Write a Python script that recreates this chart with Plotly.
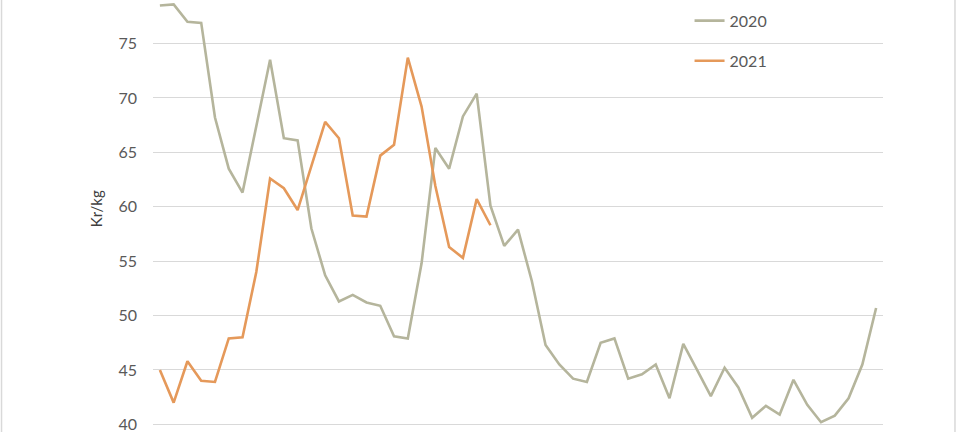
import plotly.graph_objects as go

weeks = list(range(1, 54))
price_2020 = [78.5, 78.6, 77.0, 76.9, 68.2, 63.5, 61.3, 67.3, 73.5, 66.3,
              66.1, 58.0, 53.7, 51.3, 51.9, 51.2, 50.9, 48.1, 47.9, 54.8,
              65.4, 63.5, 68.3, 70.4, 60.1, 56.4, 57.9, 53.2, 47.3, 45.5,
              44.2, 43.9, 47.5, 47.9, 44.2, 44.6, 45.5, 42.4, 47.4, 45.0,
              42.6, 45.2, 43.4, 40.6, 41.7, 40.9, 44.1, 41.8, 40.2, 40.8,
              42.4, 45.5, 50.7]
price_2021 = [45.0, 42.0, 45.8, 44.0, 43.9, 47.9, 48.0, 54.0, 62.6, 61.7,
              59.7, 63.7, 67.8, 66.3, 59.2, 59.1, 64.7, 65.7, 73.7, 69.2,
              61.9, 56.3, 55.3, 60.7, 58.3]
y_ticks = [40, 45, 50, 55, 60, 65, 70, 75]

fig = go.Figure()
fig.add_trace(go.Scatter(x=weeks[:len(price_2020)], y=price_2020, mode="lines",
                         name="2020", line=dict(color="#B5B59C", width=2.6),
                         legend="legend"))
fig.add_trace(go.Scatter(x=weeks[:len(price_2021)], y=price_2021, mode="lines",
                         name="2021", line=dict(color="#E5995A", width=2.6),
                         legend="legend2"))

legend_common = dict(font=dict(family="Lato", size=16, color="#595959"),
                     bgcolor="rgba(0,0,0,0)", xanchor="left", yanchor="middle",
                     itemwidth=30)
fig.update_layout(
    width=960, height=432,
    margin=dict(l=153, r=77, t=0, b=0),
    paper_bgcolor="white", plot_bgcolor="white",
    showlegend=True,
    legend=dict(x=0.735, y=0.952, **legend_common),
    legend2=dict(x=0.735, y=0.859, **legend_common),
    xaxis=dict(range=[0.5, 53.5], showgrid=False, zeroline=False,
               showticklabels=False, showline=False, fixedrange=True),
    yaxis=dict(range=[39.3, 79.0], tickvals=y_ticks, showgrid=True,
               gridcolor="#D9D9D9", gridwidth=1, zeroline=False,
               showline=False, ticklabelstandoff=15,
               ticklabeloverflow="allow",
               tickfont=dict(family="Lato", size=16, color="#595959")),
    annotations=[dict(text="Kr/kg", xref="paper", yref="paper",
                      x=-0.093, y=0.516, textangle=-90, showarrow=False,
                      font=dict(family="Lato", size=15, color="#404040"))],
    shapes=[
        dict(type="line", xref="paper", yref="paper", x0=-0.2075, x1=-0.2075,
             y0=0, y1=1, line=dict(color="#D9D9D9", width=1.5)),
        dict(type="line", xref="paper", yref="paper", x0=1.0986, x1=1.0986,
             y0=0, y1=1, line=dict(color="#D9D9D9", width=1.5)),
    ],
)

fig.write_html("out.html", config={"displayModeBar": False},
               post_script="document.body.style.margin='0';document.body.style.overflow='hidden';")
